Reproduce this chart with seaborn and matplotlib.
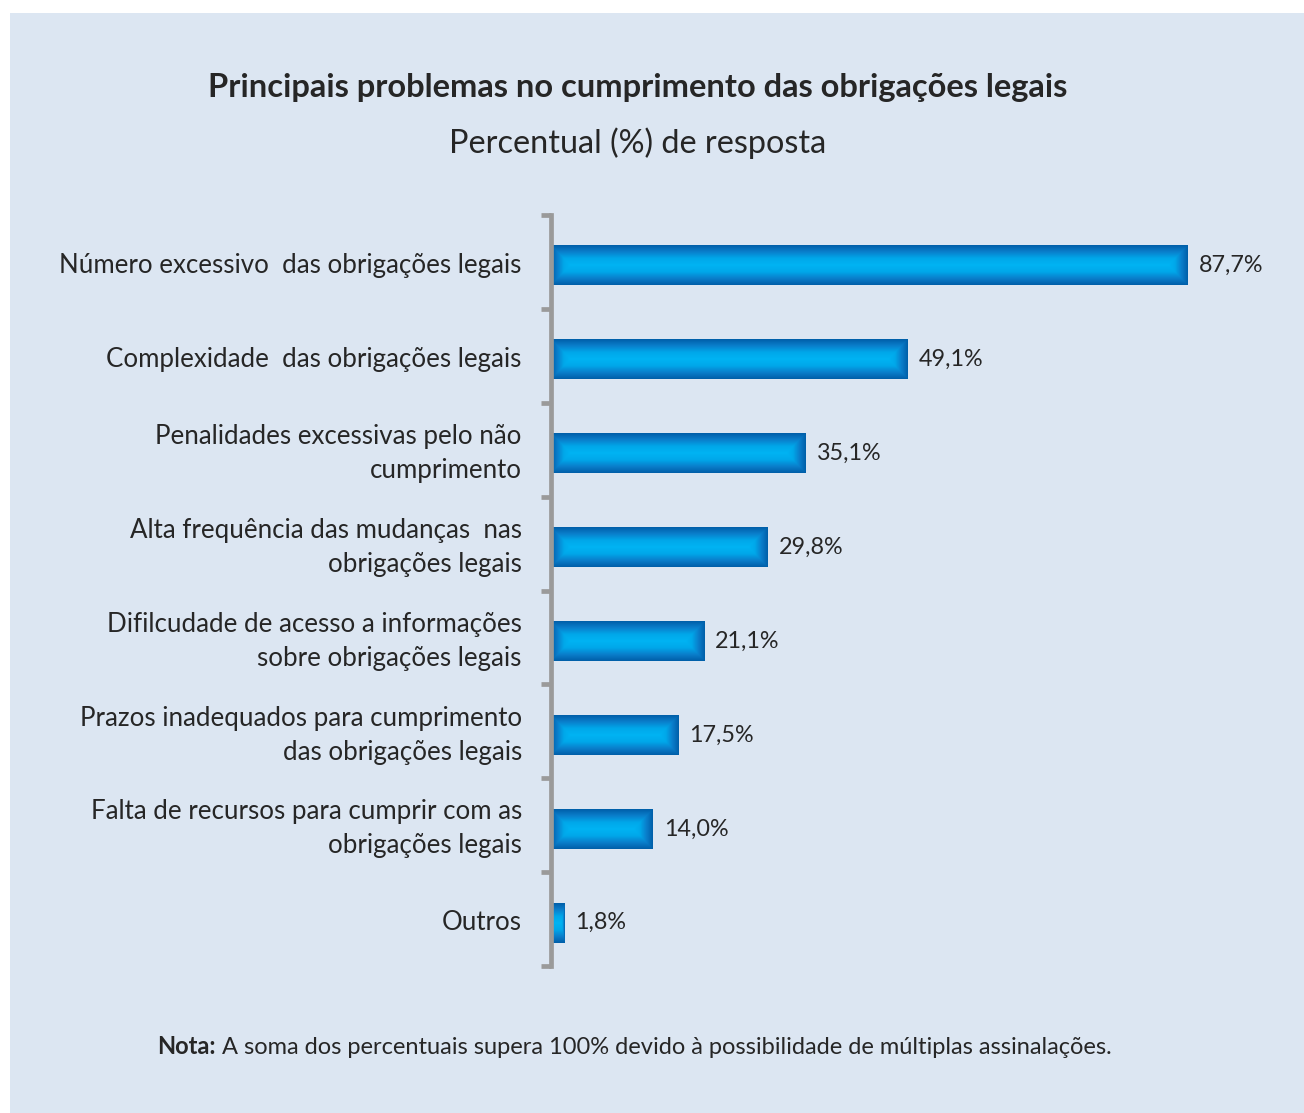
import matplotlib
matplotlib.use("Agg")
import matplotlib.pyplot as plt
import matplotlib.transforms as mtransforms
import numpy as np
import seaborn as sns
from matplotlib.colors import LinearSegmentedColormap
from matplotlib.patches import Rectangle

categories = [
    "Número excessivo  das obrigações legais",
    "Complexidade  das obrigações legais",
    "Penalidades excessivas pelo não\ncumprimento",
    "Alta frequência das mudanças  nas\nobrigações legais",
    "Difilcudade de acesso a informações\nsobre obrigações legais",
    "Prazos inadequados para cumprimento\ndas obrigações legais",
    "Falta de recursos para cumprir com as\nobrigações legais",
    "Outros",
]
values = [87.7, 49.1, 35.1, 29.8, 21.1, 17.5, 14.0, 1.8]
value_labels = ["87,7%", "49,1%", "35,1%", "29,8%", "21,1%", "17,5%", "14,0%", "1,8%"]

title = "Principais problemas no cumprimento das obrigações legais"
subtitle = "Percentual (%) de resposta"

sns.set_theme(style="white")
plt.rcParams["font.family"] = ["Lato", "DejaVu Sans"]

W, H = 1304, 1113
fig = plt.figure(figsize=(W / 100, H / 100), dpi=100)
fig.patch.set_facecolor("white")
fig.add_artist(Rectangle((10 / W, 0), 1 - 10 / W, 1 - 13 / H, transform=fig.transFigure,
                         facecolor="#dce6f2", edgecolor="none", zorder=-10))

px_per_unit = 7.263
ax_left, ax_top, ax_bottom = 551, 215, 966
ax = fig.add_axes([ax_left / W, 1 - ax_bottom / H, 100 * px_per_unit / W, (ax_bottom - ax_top) / H])
ax.set_facecolor("none")

bar_w = 0.42
sns.barplot(x=values, y=categories, orient="h", width=bar_w, color="#0a84d0", ax=ax,
            saturation=1, edgecolor="none")

# bars sit a little below the middle of their category slot
off = 0.04
n = len(categories)

# bevelled gradient on each bar
cmap = LinearSegmentedColormap.from_list("bev", ["#005ea8", "#0a7ecb", "#00a8ea", "#00b3f3"])
bar_px_h = bar_w * (ax_bottom - ax_top) / n
for patch in ax.patches:
    x0, y0 = patch.get_x(), patch.get_y()
    w, h = patch.get_width(), patch.get_height()
    npx_w = max(int(round(w * px_per_unit)), 2)
    npx_h = max(int(round(bar_px_h)), 2)
    yy, xx = np.mgrid[0:npx_h, 0:npx_w] + 0.5
    half = npx_h / 2
    bevel = min(half, npx_w * 0.25)
    d_y = np.minimum(yy, npx_h - yy) / half
    d_x = np.minimum(xx, npx_w - xx) / bevel
    img = np.clip(np.minimum(d_x, d_y), 0, 1)
    patch.set_facecolor("none")
    ax.imshow(img, cmap=cmap, vmin=0, vmax=1, aspect="auto", interpolation="bilinear",
              extent=[x0, x0 + w, y0 + h, y0], zorder=2)
ax.set_xlim(0, 100)
ax.set_ylim(n - 0.5 - off, -0.5 - off)

for i, (v, lab) in enumerate(zip(values, value_labels)):
    ax.text(v + 11 / px_per_unit, i, lab, va="center", ha="left", fontsize=16.8, color="#262626")

sns.despine(ax=ax, top=True, right=True, bottom=True, left=False)
ax.spines["left"].set_color("#9a9a9a")
ax.spines["left"].set_linewidth(3.4)
ax.set_xticks([])
ax.set_xlabel("")
ax.set_ylabel("")
ax.set_yticks(range(n))
ax.set_yticklabels(categories, fontsize=18.6, color="#262626", linespacing=1.45)
ax.tick_params(axis="y", which="major", length=0, pad=21)
ax.set_yticks(np.arange(-0.5, n, 1) - off, minor=True)
ax.tick_params(axis="y", which="minor", length=7, width=3.4, color="#9a9a9a", left=True)

# nudge the category labels up to the slot centre
for lbl in ax.get_yticklabels():
    dy = 7 if "\n" in lbl.get_text() else 3
    lbl.set_transform(lbl.get_transform() + mtransforms.Affine2D().translate(0, dy))

fig.text(638 / W, 1 - 88 / H, title, ha="center", va="center", fontsize=23.5,
         fontweight="bold", color="#262626")
fig.text(638 / W, 1 - 143 / H, subtitle, ha="center", va="center", fontsize=23.3, color="#262626")

note_size = 17
note_bold = fig.text(157 / W, 1 - 1047 / H, "Nota:", ha="left", va="center", fontsize=note_size,
                     fontweight="bold", color="#262626")
fig.canvas.draw()
bb = note_bold.get_window_extent()
fig.text((bb.x1 + 6) / W, 1 - 1047 / H,
         "A soma dos percentuais supera 100% devido à possibilidade de múltiplas assinalações.",
         ha="left", va="center", fontsize=note_size, color="#262626")

fig.savefig("out.png", dpi=100, facecolor=fig.get_facecolor())
